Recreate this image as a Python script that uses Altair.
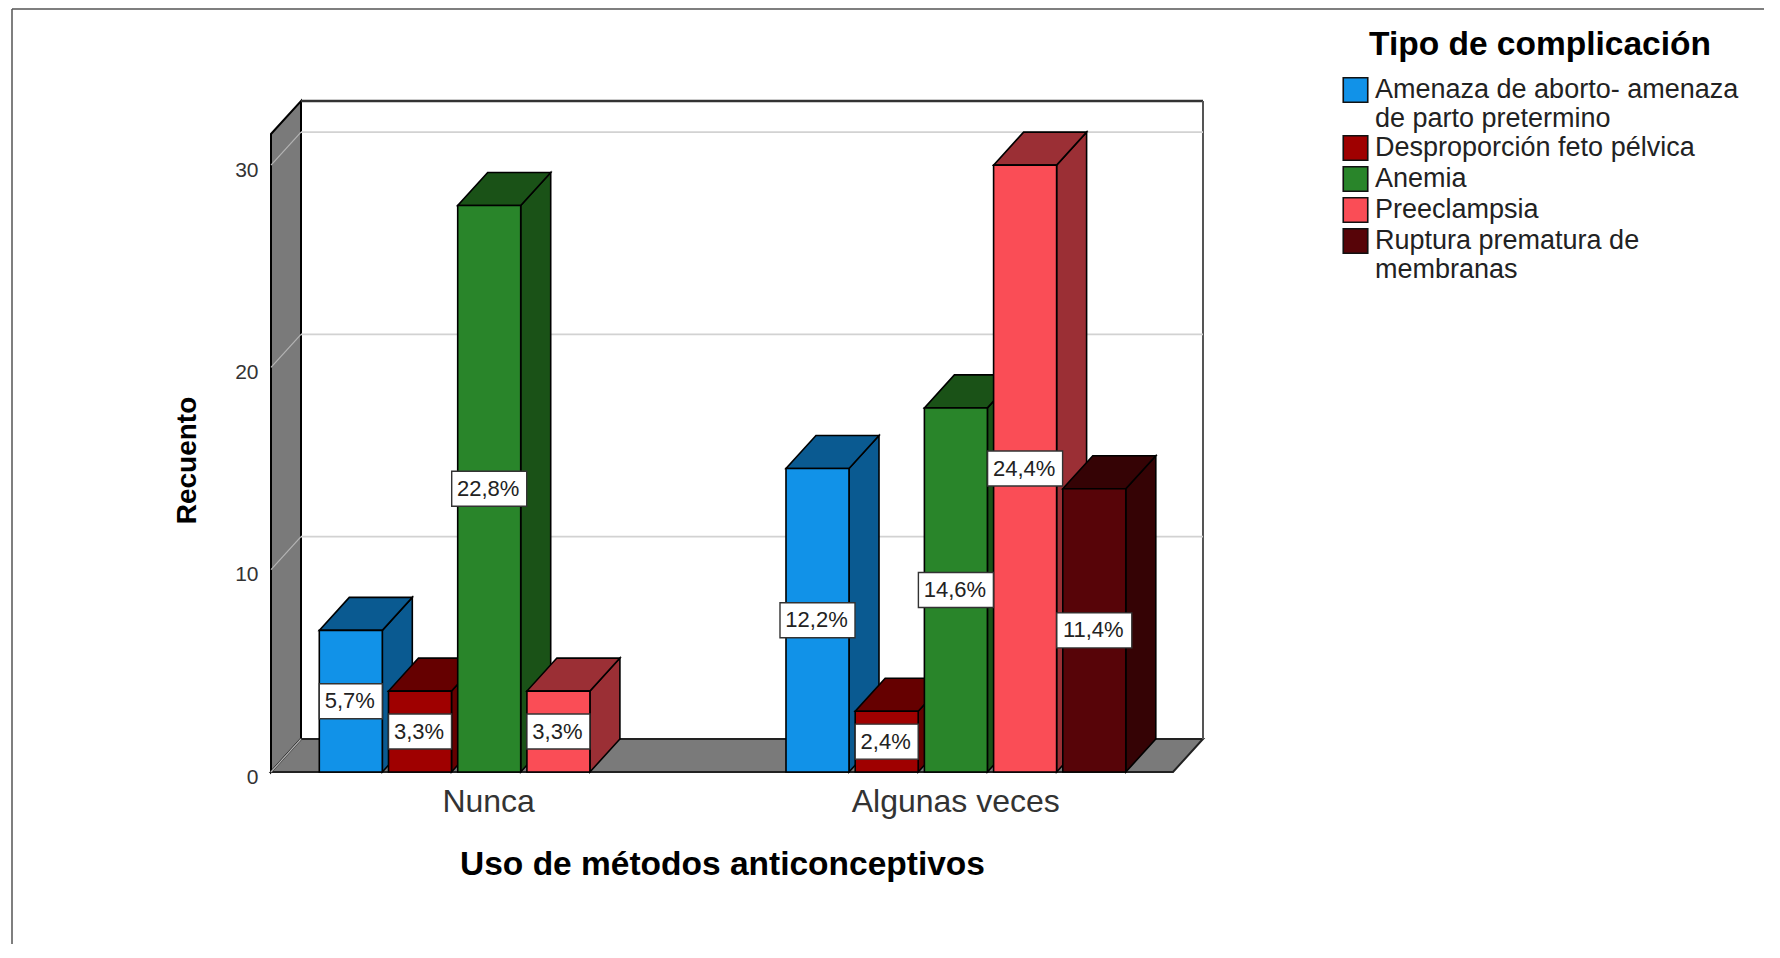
import altair as alt
import pandas as pd

# ---- data ----
categories = ["Nunca", "Algunas veces"]
series = ["Amenaza de aborto- amenaza|de parto pretermino", "Desproporción feto pélvica",
          "Anemia", "Preeclampsia", "Ruptura prematura de|membranas"]
front_colors = ["#1192E8", "#9F0000", "#29852A", "#FA4D56", "#570408"]
depth_colors = ["#0A5A91", "#650000", "#1A5217", "#9B2F35", "#350305"]
counts_nunca = [7, 4, 28, 4, None]
counts_algunas = [15, 3, 18, 30, 14]
pct_nunca = ["5,7%", "3,3%", "22,8%", "3,3%", None]
pct_algunas = ["12,2%", "2,4%", "14,6%", "24,4%", "11,4%"]
y_ticks = [0, 10, 20, 30]

# ---- layout: one x unit is one bar slot, one y unit is one case ----
W, H = 932, 671
PX_X, PX_Y = 69.2, 20.23
xmin, xmax = -0.698, 12.77
ymax = H / PX_Y
DX, DY = 30 / PX_X, 33 / PX_Y        # depth of the pseudo 3D box
BAR = 63 / PX_X
group_start = [0.0, 6.744]
xfront = xmax - DX
FONT = "Liberation Sans"

xs = alt.Scale(domain=[xmin, xmax], nice=False, zero=False)
ys = alt.Scale(domain=[0, ymax], nice=False, zero=False)
x_axis = alt.Axis(
    title="Uso de métodos anticonceptivos", titleFont=FONT, titleFontSize=33.5, titleFontWeight="bold",
    titleColor="#000", titleX=451, titleY=92, titleBaseline="middle", titleAlign="center", titleLimit=900,
    values=[2.44, 9.19],
    labelExpr=f"datum.value < 5 ? '{categories[0]}' : '{categories[1]}'",
    labelFont=FONT, labelFontSize=32, labelColor="#333", labelPadding=14, labelOverlap=False, labelLimit=500,
    labelFlush=False, domain=False, ticks=False, grid=False)
y_axis = alt.Axis(
    title="Recuento", titleFont=FONT, titleFontSize=28, titleFontWeight="bold", titleColor="#000",
    titleX=-84, titleY=359, titleBaseline="middle", titleAlign="center",
    values=y_ticks, labelFont=FONT, labelFontSize=21, labelColor="#333", labelPadding=13,
    labelOffset=5, domain=False, ticks=False, grid=False)
X = lambda f: alt.X(f, type="quantitative", scale=xs, axis=x_axis)
Y = lambda f: alt.Y(f, type="quantitative", scale=ys, axis=y_axis)

rows = []
for g, (cat, vals, pcts) in enumerate(zip(categories, [counts_nunca, counts_algunas], [pct_nunca, pct_algunas])):
    for s, name in enumerate(series):
        if vals[s] is None:
            continue
        left = group_start[g] + s
        half = (75 if len(pcts[s]) == 5 else 63) / PX_X / 2
        rows.append(dict(cat=cat, serie=name, s=s, v=vals[s], pct=pcts[s], left=left, right=left + BAR,
                         mid=left + BAR / 2, ym=vals[s] / 2,
                         bl=left + BAR / 2 - half, br=left + BAR / 2 + half,
                         yb0=vals[s] / 2 - 17.5 / PX_Y, yb1=vals[s] / 2 + 17.5 / PX_Y))
bars = pd.DataFrame(rows)

# frame of the picture
frame = [
    alt.Chart(pd.DataFrame({"a": [0]})).mark_rule(color="#555", strokeWidth=1.5).encode(
        x=alt.value(-259), x2=alt.value(1493), y=alt.value(-92)),
    alt.Chart(pd.DataFrame({"a": [0]})).mark_rule(color="#555", strokeWidth=1.5).encode(
        x=alt.value(-259), y=alt.value(-92), y2=alt.value(843)),
]

# walls of the box
wall = pd.DataFrame({"x": [xmin, xmin + DX], "y0": [0, DY], "y1": [ymax - DY, ymax]})
left_wall = alt.Chart(wall).mark_area(orient="vertical", fill="#7A7A7A", stroke="#000", strokeWidth=2).encode(
    x=X("x"), y=Y("y0"), y2="y1")
floor = pd.DataFrame({"y": [0, DY], "x0": [xmin, xmin + DX], "x1": [xfront, xmax]})
floor_mark = alt.Chart(floor).mark_area(orient="horizontal", fill="#7A7A7A", stroke="#222", strokeWidth=2).encode(
    y=Y("y"), x=X("x0"), x2="x1")

back_edges = [
    alt.Chart(pd.DataFrame({"x": [xmin + DX], "x2": [xmax], "y": [ymax]})).mark_rule(color="#333", strokeWidth=2.5).encode(
        x=X("x"), x2="x2", y=Y("y")),
    alt.Chart(pd.DataFrame({"x": [xmax], "y": [DY], "y2": [ymax]})).mark_rule(color="#555", strokeWidth=2).encode(
        x=X("x"), y=Y("y"), y2="y2"),
]

grid = pd.DataFrame({"v": y_ticks})
grid["xa"], grid["xb"], grid["xc"] = xmin, xmin + DX, xmax
grid["yb"] = grid["v"] + DY
grid_back = alt.Chart(grid[grid.v > 0]).mark_rule(color="#D2D2D2", strokeWidth=1.7).encode(
    x=X("xb"), x2="xc", y=Y("yb"))
grid_side = alt.Chart(grid).mark_rule(color="#B4B4B4", strokeWidth=1.2).encode(
    x=X("xa"), x2="xb", y=Y("v"), y2="yb")

# depth faces, painted from left to right, then the fronts above them
depth_layers = []
for _, r in bars.iterrows():
    dark = depth_colors[r.s]
    side = pd.DataFrame({"x": [r.right, r.right + DX], "y0": [0, DY], "y1": [r.v, r.v + DY]})
    top = pd.DataFrame({"y": [r.v, r.v + DY], "x0": [r.left, r.left + DX], "x1": [r.right, r.right + DX]})
    depth_layers.append(alt.Chart(side).mark_area(orient="vertical", fill=dark, stroke="#000", strokeWidth=1.6).encode(
        x=X("x"), y=Y("y0"), y2="y1"))
    depth_layers.append(alt.Chart(top).mark_area(orient="horizontal", fill=dark, stroke="#000", strokeWidth=1.6).encode(
        y=Y("y"), x=X("x0"), x2="x1"))

fronts = alt.Chart(bars).transform_calculate(zero="0").mark_bar(stroke="#000", strokeWidth=1.6).encode(
    x=X("left"), x2="right", y=Y("v"), y2=alt.Y2("zero:Q"),
    color=alt.Color("serie:N", scale=alt.Scale(domain=series, range=front_colors), legend=alt.Legend(
        title="Tipo de complicación", titleFont=FONT, titleFontSize=33.5, titleFontWeight="bold", titleColor="#000",
        titleAnchor="middle", titlePadding=14, titleLimit=800, orient="none", legendX=1071, legendY=-72,
        labelExpr="split(datum.label, '|')", labelFont=FONT, labelFontSize=27, labelColor="#222", labelLimit=500,
        labelOffset=6, symbolType="square", symbolSize=600, symbolStrokeColor="#111", symbolStrokeWidth=1.6,
        rowPadding=0, values=series)),
)

boxes = alt.Chart(bars).mark_rect(fill="#FFF", stroke="#333", strokeWidth=1.4).encode(
    x=X("bl"), x2="br", y=Y("yb0"), y2="yb1")
texts = alt.Chart(bars).mark_text(font=FONT, fontSize=22, color="#222", baseline="middle", align="center", dx=-1).encode(
    x=X("mid"), y=Y("ym"), text="pct:N")

chart = alt.layer(*frame, left_wall, floor_mark, *back_edges, grid_back, grid_side,
                  *depth_layers, fronts, boxes, texts).properties(
    width=W, height=H,
    autosize=alt.AutoSizeParams(type="none"),
    padding={"left": 263, "top": 93, "right": 569, "bottom": 172},
    background="#FFFFFF",
).configure_view(stroke=None)

chart.save("out.html", embed_options={"renderer": "svg", "actions": False})
